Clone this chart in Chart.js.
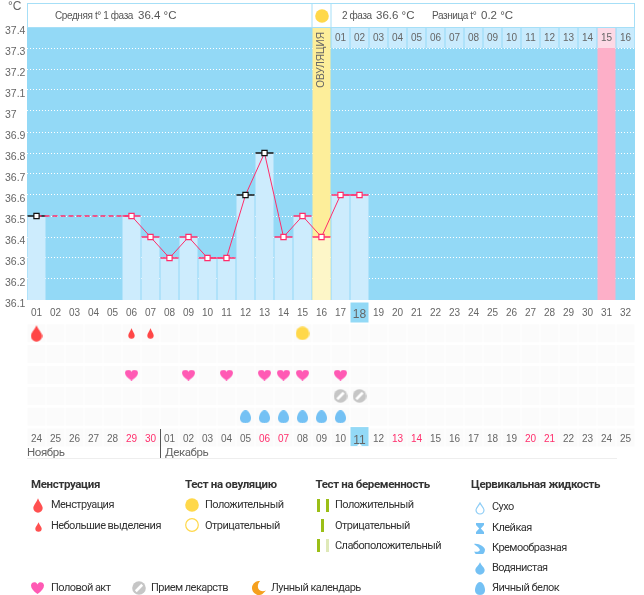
<!DOCTYPE html>
<html><head><meta charset="utf-8">
<script src="https://cdn.jsdelivr.net/npm/chart.js@4"></script>
<style>html,body{margin:0;padding:0;background:#fff}canvas{display:block}</style>
</head><body><canvas id="c" width="644" height="595"></canvas>
<script>
// ---- data ----
const cycleDays = ['01','02','03','04','05','06','07','08','09','10','11','12','13','14','15','16','17','18','19','20','21','22','23','24','25','26','27','28','29','30','31','32'];
const calendarDates = ['24','25','26','27','28','29','30','01','02','03','04','05','06','07','08','09','10','11','12','13','14','15','16','17','18','19','20','21','22','23','24','25'];
const weekendIdx = [5,6,12,13,19,20,26,27];
const temperatures = [36.5,null,null,null,null,36.5,36.4,36.3,36.4,36.3,36.3,36.6,36.8,36.4,36.5,36.4,36.6,36.6,null,null,null,null,null,null,null,null,null,null,null,null,null,null];
const blackMarkerDays = ['01','12','13'];
const ovulationBand = ['16'];
const pinkBand = ['31'];
const phase2Days = ['01','02','03','04','05','06','07','08','09','10','11','12','13','14','15','16'];
const heavyFlowDays = ['01'];
const spottingDays = ['06','07'];
const ovulationTestDays = ['15'];
const intercourseDays = ['06','09','11','13','14','15','17'];
const medicationDays = ['17','18'];
const eggWhiteDays = ['12','13','14','15','16','17'];
const todayDay = '18';
const yTicks = {37.4:'37.4',37.3:'37.3',37.2:'37.2',37.1:'37.1',37:'37',36.9:'36.9',36.8:'36.8',36.7:'36.7',36.6:'36.6',36.5:'36.5',36.4:'36.4',36.3:'36.3',36.2:'36.2',36.1:'36.1'};

const UI = 'Roboto, sans-serif', TICK = '"Liberation Sans", sans-serif';
const PINK='#ff2d6b', SKY='#93d9f6', CELL='#cdecfd', GREY='#666';

// ---- symbols ----
function icon(w,h,draw){const c=document.createElement('canvas');c.width=w;c.height=h;const g=c.getContext('2d');draw(g,w,h);return c;}
function drop(w,h,col,stroke){return icon(w,h,(g)=>{const r=w/2-(stroke?1:0.3),cy=h-r-(stroke?1:0.3),cx=w/2;g.beginPath();g.moveTo(cx,stroke?1:0.2);g.bezierCurveTo(cx+r*0.25,h*0.25,cx+r,cy-r*0.5,cx+r,cy);g.arc(cx,cy,r,0,Math.PI);g.bezierCurveTo(cx-r,cy-r*0.5,cx-r*0.25,h*0.25,cx,stroke?1:0.2);g.closePath();if(stroke){g.strokeStyle=col;g.lineWidth=1.2;g.stroke();}else{g.fillStyle=col;g.fill();}});}
function disc(d,col,ring){return icon(d,d,(g)=>{g.beginPath();g.arc(d/2,d/2,d/2-(ring?0.7:0.2),0,7);if(ring){g.strokeStyle=col;g.lineWidth=1.2;g.stroke();}else{g.fillStyle=col;g.fill();}});}
function heart(w,h,col){return icon(w,h,(g)=>{g.fillStyle=col;g.beginPath();g.moveTo(w/2,h);g.bezierCurveTo(w*0.2,h*0.78,0,h*0.55,0,h*0.3);g.bezierCurveTo(0,0,w*0.38,-h*0.08,w/2,h*0.2);g.bezierCurveTo(w*0.62,-h*0.08,w,0,w,h*0.3);g.bezierCurveTo(w,h*0.55,w*0.8,h*0.78,w/2,h);g.fill();});}
function pill(d){return icon(d,d,(g)=>{g.fillStyle='#c6c6c6';g.beginPath();g.arc(d/2,d/2,d/2-0.2,0,7);g.fill();g.strokeStyle='#fff';g.lineWidth=2.6;g.beginPath();g.moveTo(d*0.27,d*0.73);g.lineTo(d*0.73,d*0.27);g.stroke();});}
function egg(w,h,col){return icon(w,h,(g)=>{g.fillStyle=col;g.beginPath();g.moveTo(w/2,0);g.bezierCurveTo(w*0.85,0,w,h*0.45,w,h*0.62);g.bezierCurveTo(w,h*0.88,w*0.78,h,w/2,h);g.bezierCurveTo(w*0.22,h,0,h*0.88,0,h*0.62);g.bezierCurveTo(0,h*0.45,w*0.15,0,w/2,0);g.fill();});}
function moon(d,col){return icon(d,d,(g)=>{g.fillStyle=col;g.beginPath();g.arc(d*0.5,d*0.5,d*0.5,Math.PI*0.35,Math.PI*1.55);g.bezierCurveTo(d*0.25,d*0.35,d*0.45,d*0.9,d,d*0.68);g.closePath();g.fill();});}
function hourglass(w,h,col){return icon(w,h,(g)=>{g.fillStyle=col;g.beginPath();g.moveTo(0,0);g.lineTo(w,0);g.lineTo(w,2);g.lineTo(w*0.6,h*0.5);g.lineTo(w,h-2);g.lineTo(w,h);g.lineTo(0,h);g.lineTo(0,h-2);g.lineTo(w*0.4,h*0.5);g.lineTo(0,2);g.fill();});}
function creamy(d,col){return icon(d,d,(g)=>{g.fillStyle=col;g.beginPath();g.moveTo(0,1);g.bezierCurveTo(d*0.4,0,d,d*0.35,d,d*0.62);g.arc(d*0.5,d*0.62,d*0.5,0,Math.PI*0.9);g.bezierCurveTo(d*0.3,d*0.85,d*0.62,d*0.75,d*0.5,d*0.55);g.bezierCurveTo(d*0.4,d*0.35,d*0.15,d*0.25,0,1);g.fill();});}
function bars(w,h,cols){return icon(w,h,(g)=>{cols.forEach((c,i)=>{g.fillStyle=c;g.fillRect(cols.length===1?(w-3)/2:(i?w-3:0),0,3,h);});});}

const icons={
 flow:drop(12,17,'#ff4646'),spot:drop(7,11,'#ff4646'),legendFlow:drop(10,15,'#ff5050'),legendSpot:drop(7,10,'#ff5050'),
 sun:disc(14,'#ffd84a'),ring:disc(14,'#ffd84a',true),heart:heart(13,11,'#ff5ab4'),legendHeart:heart(13,12,'#ff5ab4'),
 pill:pill(14),egg:egg(11,13,'#74c1f4'),legendEgg:egg(10,13,'#74c1f4'),moon:moon(14,'#f5a01e'),
 dry:drop(10,13,'#8dcdf6',true),sticky:hourglass(8,11,'#74c1f4'),creamy:creamy(11,'#74c1f4'),watery:drop(10,13,'#74c1f4'),
 two:bars(12,13,['#9bbf17','#9bbf17']),one:bars(3,13,['#9bbf17']),weak:bars(12,13,['#9bbf17','#dfe9b8'])
};

const rowPoints=(days,row)=>days.map(d=>({x:d,y:row+0.5}));
const symbolSet=(days,row,pic)=>({type:'line',yAxisID:'rows',showLine:false,data:rowPoints(days,row),pointStyle:pic,pointRadius:7,pointHoverRadius:7,order:0});
const band=(values,col,ord)=>({type:'bar',data:values,backgroundColor:col,barPercentage:1,categoryPercentage:18/19,grouped:false,order:ord,borderWidth:0});
const isBlack=i=>blackMarkerDays.includes(cycleDays[i]);
const inGap=c=>c.p0.skip||c.p1.skip;

const datasets=[
 {type:'line',data:temperatures,spanGaps:true,borderColor:PINK,borderWidth:1,tension:0,
  segment:{borderDash:c=>inGap(c)?[5,3]:undefined,borderWidth:c=>inGap(c)?1.4:undefined},
  pointStyle:'rect',pointRadius:3.7,pointBackgroundColor:'#fff',pointBorderWidth:1.2,
  pointBorderColor:c=>isBlack(c.dataIndex)?'#111':PINK,order:1},
 {type:'line',data:temperatures,showLine:false,pointStyle:'line',pointRadius:9,pointBorderWidth:1.4,
  pointBorderColor:c=>isBlack(c.dataIndex)?'#111':PINK,order:2},
 band(temperatures,c=>c.dataIndex===15?'#fdf6c8':CELL,3),
 band(cycleDays.map(d=>ovulationBand.includes(d)?37.4:null),'#fdee9a',4),
 band(cycleDays.map(d=>pinkBand.includes(d)?37.3:null),'#fdafc8',4),
 symbolSet(heavyFlowDays,1,icons.flow),
 symbolSet(spottingDays,1,icons.spot),
 symbolSet(ovulationTestDays,1,icons.sun),
 symbolSet(intercourseDays,3,icons.heart),
 symbolSet(medicationDays,4,icons.pill),
 symbolSet(eggWhiteDays,5,icons.egg)
];

function t(g,s,x,y,font,col,align,sp){g.font=font;g.fillStyle=col;g.textAlign=align||'left';g.textBaseline='middle';g.letterSpacing=(sp||0)+'px';g.fillText(s,x,y);}
function pic(g,p,x,y){g.drawImage(p,Math.round(x-p.width/2),Math.round(y-p.height/2));}

const decor={id:'decor',
 beforeDraw(ch){const g=ch.ctx,{x,y,rows}=ch.scales,a=ch.chartArea;
  g.save();
  g.fillStyle=SKY;g.fillRect(a.left,y.top,a.right-a.left,y.bottom-y.top);
  g.fillStyle='#fbfbfb';
  cycleDays.forEach(d=>{const c=x.getPixelForValue(d);[1,2,3,4,5,6].forEach(r=>{const m=rows.getPixelForValue(r+0.5);g.fillRect(c-9,m-9,18,18);});});
  g.fillStyle=SKY;
  const cx=x.getPixelForValue(todayDay);
  g.fillRect(cx-9,rows.getPixelForValue(0.5)-10,18,20);
  g.fillRect(cx-9,rows.getPixelForValue(6.5)-10.5,18,19);
  g.fillStyle='#fff';g.beginPath();const ny=rows.getPixelForValue(6.5)+8.5;g.moveTo(cx-2.5,ny);g.lineTo(cx,ny-2.5);g.lineTo(cx+2.5,ny);g.fill();
  g.restore();
 },
 beforeDatasetsDraw(ch){const g=ch.ctx,{x,y}=ch.scales;
  g.save();
  const top=y.getPixelForValue(37.4),bot=y.getPixelForValue(37.3);
  phase2Days.forEach((_,i)=>{const c=x.getPixelForValue(cycleDays[16+i]);g.fillStyle=pinkBand.includes(cycleDays[16+i])?'#fdd9e5':'#c9ebfd';g.fillRect(c-9,top,18,bot-top);});
  g.restore();
 },
 afterDraw(ch){const g=ch.ctx,{x,y,rows}=ch.scales,a=ch.chartArea;
  g.save();
  // strip numbers
  const sy=(y.getPixelForValue(37.4)+y.getPixelForValue(37.3))/2+0.5;
  phase2Days.forEach((n,i)=>t(g,n,x.getPixelForValue(cycleDays[16+i]),sy,'10px '+TICK,GREY,'center'));
  // header
  g.fillStyle='#fff';g.fillRect(a.left,3,a.right-a.left,24);
  g.strokeStyle='#a6dff7';g.lineWidth=1;g.strokeRect(a.left+0.5,3.5,a.right-a.left-1,24);
  const ox=x.getPixelForValue('16');
  g.beginPath();g.moveTo(ox-9.5,3);g.lineTo(ox-9.5,27);g.moveTo(ox+9.5,3);g.lineTo(ox+9.5,27);g.stroke();
  pic(g,icons.sun,ox,16);
  t(g,'°C',8,7,'12px '+TICK,GREY);
  const HT='10px '+TICK,HV='11.5px '+TICK;
  t(g,'Средняя t° 1 фаза',55,16,HT,'#555','left',-0.4);
  t(g,'36.4 °C',138,15.5,HV,'#555');
  t(g,'2 фаза',342,16,HT,'#555','left',-0.4);
  t(g,'36.6 °C',376,15.5,HV,'#555');
  t(g,'Разница t°',432,16,HT,'#555','left',-0.4);
  t(g,'0.2 °C',481,15.5,HV,'#555');
  // ovulation label
  g.save();g.translate(ox,60);g.rotate(-Math.PI/2);t(g,'ОВУЛЯЦИЯ',0,0,'10px '+TICK,'#666','center');g.restore();
  // months
  t(g,'Ноябрь',27,453,'11.5px '+UI,GREY,'left',-0.4);
  t(g,'Декабрь',165,453,'11.5px '+UI,GREY,'left',-0.4);
  g.strokeStyle='#555';g.beginPath();g.moveTo(160.5,429);g.lineTo(160.5,458);g.stroke();
  g.strokeStyle='#eee';g.beginPath();g.moveTo(27,458.5);g.lineTo(617,458.5);g.stroke();
  // legend
  const H='bold 11.5px '+UI,L='11px '+UI,D='#333',SH=-0.35,SL=-0.55;
  const head=(s,px)=>t(g,s,px,485.5,H,D,'left',SH);
  const item=(s,px,py)=>t(g,s,px,py,L,D,'left',SL);
  head('Менструация',31);
  pic(g,icons.legendFlow,38,505);item('Менструация',51,505);
  pic(g,icons.legendSpot,38,527);item('Небольшие выделения',51,526);
  head('Тест на овуляцию',185);
  pic(g,icons.sun,192,505);item('Положительный',205,505);
  pic(g,icons.ring,192,525);item('Отрицательный',205,526);
  head('Тест на беременность',315.5);
  pic(g,icons.two,322.5,505);item('Положительный',335,505);
  pic(g,icons.one,322.5,525);item('Отрицательный',335,526);
  pic(g,icons.weak,322.5,545);item('Слабоположительный',335,546);
  head('Цервикальная жидкость',471);
  pic(g,icons.dry,479.5,508);item('Сухо',492,507.5);
  pic(g,icons.sticky,479.5,528);item('Клейкая',492,528);
  pic(g,icons.creamy,479.5,548);item('Кремообразная',492,548);
  pic(g,icons.watery,479.5,568);item('Водянистая',492,568);
  pic(g,icons.legendEgg,479.5,588);item('Яичный белок',492,588);
  pic(g,icons.legendHeart,37,588);item('Половой акт',51,588);
  pic(g,icons.pill,139,588);item('Прием лекарств',151,588);
  pic(g,icons.moon,259,588);item('Лунный календарь',271,588);
  g.restore();
 }
};

new Chart(document.getElementById('c'),{
 data:{labels:cycleDays,datasets},
 plugins:[decor],
 options:{
  responsive:false,animation:false,devicePixelRatio:1,
  layout:{autoPadding:false,padding:{left:5,top:27,right:9,bottom:147}},
  plugins:{legend:{display:false},tooltip:{enabled:false},title:{display:false}},
  events:[],
  scales:{
   x:{type:'category',position:{y:36.1},offset:true,labels:cycleDays,
      grid:{display:false,drawTicks:false},border:{display:false},
      ticks:{autoSkip:false,maxRotation:0,padding:7,color:GREY,
        font:c=>({family:'"Liberation Sans"',size:c.index===17?12:10})}},
   x2:{type:'category',position:{rows:6},offset:true,labels:calendarDates,
      grid:{display:false,drawTicks:false},border:{display:false},
      ticks:{autoSkip:false,maxRotation:0,padding:6,
        color:c=>weekendIdx.includes(c.index)?PINK:GREY,
        font:c=>({family:'"Liberation Sans"',size:c.index===17?12:10})}},
   y:{type:'linear',position:'left',stack:'main',stackWeight:273,weight:2,min:36.1,max:37.4,
      afterFit:s=>{s.width=22;},
      grid:{color:c=>c.tick&&c.tick.value>=37.39?'rgba(0,0,0,0)':'#fff',drawTicks:false,lineWidth:1},
      border:{display:false,dash:[1,2]},
      ticks:{stepSize:0.1,autoSkip:false,crossAlign:'far',padding:4,labelOffset:4,color:GREY,
        font:{family:'"Liberation Sans"',size:10.5},
        callback:v=>yTicks[Number(v).toFixed(1)*1]}},
   rows:{type:'linear',position:'left',stack:'main',stackWeight:148,weight:1,min:-0.1,max:7,reverse:true,display:false}
  }
 }
});
</script></body></html>
